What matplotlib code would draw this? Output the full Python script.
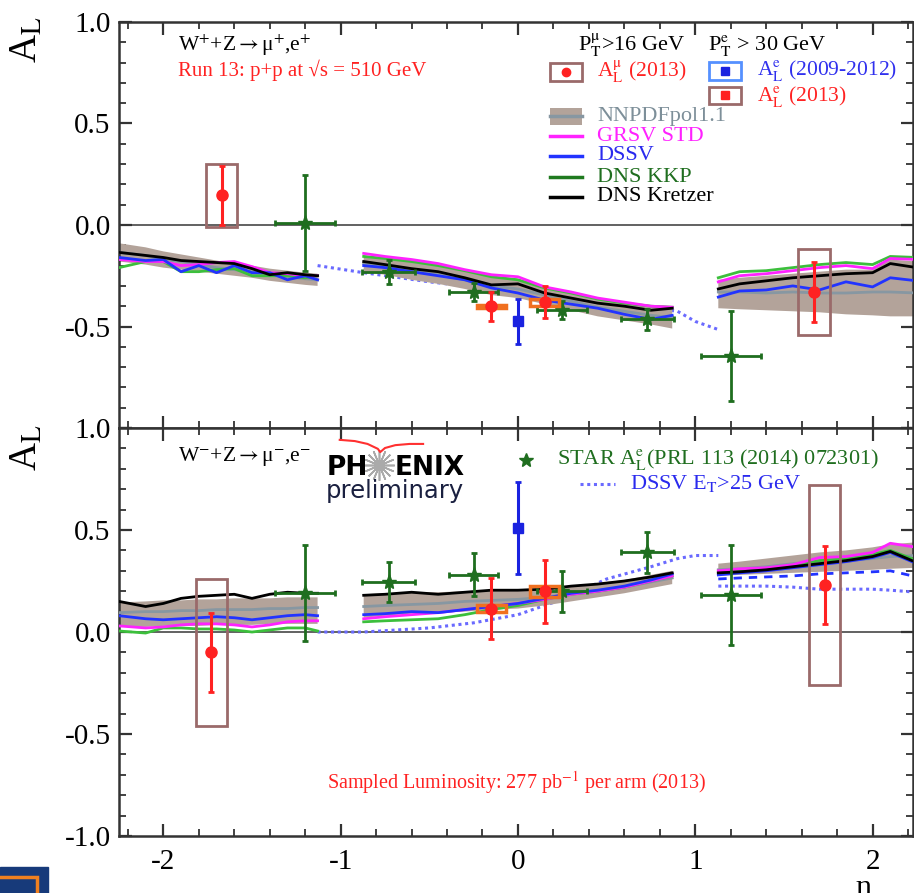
import numpy as np
import matplotlib
matplotlib.use("Agg")
from matplotlib import pyplot as plt
from matplotlib.patches import Rectangle
from matplotlib.ticker import MultipleLocator

plt.rcParams["font.family"] = ["Liberation Serif", "DejaVu Serif"]
plt.rcParams["mathtext.fontset"] = "stix"
plt.rcParams["axes.unicode_minus"] = False

nan = np.nan

# theory grid: backward | central | forward (nan = gap between arms)
eta_theory = [-2.25, -2.1, -2.0, -1.9, -1.8, -1.7, -1.6, -1.5, -1.4, -1.3, -1.2, -1.13, nan,
              -0.87, -0.75, -0.6, -0.45, -0.3, -0.15, 0.0, 0.15, 0.3, 0.45, 0.6, 0.75, 0.87, nan,
              1.13, 1.25, 1.4, 1.55, 1.7, 1.85, 2.0, 2.1, 2.25]

# W+ panel
wp_nnpdf_hi = [-0.09, -0.11, -0.13, -0.145, -0.16, -0.175, -0.19, -0.20, -0.215, -0.225, -0.235, -0.24, nan,
               -0.15, -0.16, -0.175, -0.195, -0.22, -0.25, -0.265, -0.30, -0.33, -0.36, -0.38, -0.395, -0.40, nan,
               -0.27, -0.26, -0.25, -0.24, -0.23, -0.22, -0.22, -0.17, -0.18]
wp_nnpdf_lo = [-0.18, -0.195, -0.21, -0.22, -0.23, -0.24, -0.25, -0.26, -0.275, -0.285, -0.295, -0.30, nan,
               -0.23, -0.245, -0.27, -0.29, -0.315, -0.345, -0.36, -0.39, -0.42, -0.45, -0.47, -0.49, -0.51, nan,
               -0.41, -0.415, -0.42, -0.425, -0.43, -0.44, -0.445, -0.45, -0.45]
wp_nnpdf = [-0.135, -0.15, -0.17, -0.18, -0.195, -0.21, -0.22, -0.23, -0.245, -0.255, -0.265, -0.27, nan,
            -0.19, -0.205, -0.225, -0.245, -0.27, -0.30, -0.315, -0.345, -0.375, -0.405, -0.425, -0.445, -0.455, nan,
            -0.33, -0.33, -0.335, -0.33, -0.335, -0.335, -0.33, -0.33, -0.335]
wp_grsv = [-0.17, -0.18, -0.18, -0.20, -0.195, -0.185, -0.18, -0.205, -0.235, -0.24, -0.25, -0.25, nan,
           -0.14, -0.155, -0.17, -0.19, -0.22, -0.245, -0.255, -0.305, -0.33, -0.36, -0.38, -0.40, -0.405, nan,
           -0.28, -0.25, -0.24, -0.225, -0.21, -0.20, -0.215, -0.165, -0.17]
wp_dssv = [-0.16, -0.175, -0.17, -0.23, -0.20, -0.235, -0.20, -0.235, -0.235, -0.27, -0.25, -0.27, nan,
           -0.20, -0.21, -0.23, -0.25, -0.27, -0.31, -0.335, -0.37, -0.39, -0.41, -0.44, -0.465, -0.445, nan,
           -0.355, -0.325, -0.32, -0.30, -0.32, -0.28, -0.305, -0.26, -0.275]
wp_kkp = [-0.21, -0.18, -0.18, -0.23, -0.23, -0.22, -0.215, -0.25, -0.25, -0.25, -0.26, -0.25, nan,
          -0.155, -0.165, -0.18, -0.20, -0.225, -0.255, -0.27, -0.31, -0.335, -0.365, -0.385, -0.40, -0.405, nan,
          -0.26, -0.23, -0.225, -0.21, -0.195, -0.185, -0.195, -0.155, -0.16]
wp_kretzer = [-0.135, -0.15, -0.16, -0.175, -0.18, -0.185, -0.19, -0.215, -0.245, -0.235, -0.245, -0.25, nan,
              -0.18, -0.195, -0.215, -0.23, -0.26, -0.295, -0.29, -0.335, -0.36, -0.385, -0.40, -0.42, -0.41, nan,
              -0.315, -0.29, -0.275, -0.26, -0.25, -0.24, -0.235, -0.19, -0.21]

# W- panel
wm_nnpdf_hi = [0.145, 0.15, 0.155, 0.155, 0.16, 0.16, 0.165, 0.165, 0.165, 0.17, 0.17, 0.17, nan,
               0.185, 0.19, 0.195, 0.195, 0.2, 0.205, 0.21, 0.215, 0.225, 0.24, 0.255, 0.28, 0.30, nan,
               0.335, 0.345, 0.36, 0.375, 0.39, 0.40, 0.415, 0.43, 0.44]
wm_nnpdf_lo = [0.025, 0.025, 0.03, 0.03, 0.03, 0.035, 0.035, 0.035, 0.04, 0.04, 0.04, 0.04, nan,
               0.07, 0.08, 0.09, 0.095, 0.10, 0.11, 0.115, 0.13, 0.15, 0.17, 0.19, 0.215, 0.235, nan,
               0.275, 0.28, 0.285, 0.29, 0.295, 0.30, 0.305, 0.31, 0.315]
wm_nnpdf = [0.095, 0.10, 0.10, 0.105, 0.105, 0.11, 0.11, 0.11, 0.115, 0.115, 0.12, 0.12, nan,
            0.125, 0.13, 0.135, 0.14, 0.15, 0.155, 0.16, 0.17, 0.185, 0.20, 0.22, 0.245, 0.265, nan,
            0.305, 0.31, 0.32, 0.335, 0.345, 0.35, 0.36, 0.37, 0.375]
wm_grsv = [0.03, 0.02, 0.025, 0.035, 0.04, 0.04, 0.035, 0.025, 0.035, 0.05, 0.055, 0.055, nan,
           0.065, 0.075, 0.085, 0.095, 0.11, 0.125, 0.14, 0.16, 0.185, 0.20, 0.22, 0.25, 0.275, nan,
           0.30, 0.31, 0.315, 0.33, 0.365, 0.37, 0.39, 0.435, 0.415]
wm_dssv = [0.08, 0.065, 0.06, 0.065, 0.07, 0.075, 0.07, 0.06, 0.07, 0.08, 0.085, 0.08, nan,
           0.085, 0.09, 0.10, 0.095, 0.11, 0.125, 0.14, 0.165, 0.19, 0.205, 0.225, 0.255, 0.285, nan,
           0.28, 0.29, 0.30, 0.315, 0.33, 0.345, 0.365, 0.39, 0.335]
wm_kkp = [0.005, -0.005, 0.02, 0.02, 0.015, 0.015, 0.01, 0.0, 0.01, 0.02, 0.02, 0.005, nan,
          0.05, 0.055, 0.06, 0.065, 0.085, 0.11, 0.13, 0.16, 0.185, 0.20, 0.22, 0.25, 0.275, nan,
          0.29, 0.30, 0.31, 0.325, 0.35, 0.36, 0.38, 0.40, 0.35]
wm_kretzer = [0.15, 0.125, 0.14, 0.165, 0.175, 0.18, 0.185, 0.165, 0.185, 0.195, 0.19, 0.19, nan,
              0.18, 0.185, 0.195, 0.185, 0.195, 0.205, 0.205, 0.21, 0.225, 0.235, 0.25, 0.27, 0.29, nan,
              0.29, 0.295, 0.305, 0.32, 0.335, 0.35, 0.37, 0.395, 0.34]

# forward arm extra DSSV curves (W- only)
eta_fwd = [1.13, 1.25, 1.4, 1.55, 1.7, 1.85, 2.0, 2.1, 2.25]
wm_dssv_dash = [0.26, 0.265, 0.27, 0.275, 0.285, 0.29, 0.295, 0.30, 0.27]
wm_dssv_dot = [0.225, 0.225, 0.225, 0.22, 0.21, 0.21, 0.21, 0.205, 0.195]

# DSSV E_T > 25 GeV (central)
eta_et = [-1.13, -0.87, -0.5, -0.25, 0.0, 0.25, 0.5, 0.75, 0.9, 1.0, 1.13]
wp_et = [-0.20, -0.235, -0.28, -0.305, -0.33, -0.355, -0.38, -0.41, -0.425, -0.475, -0.515]
wm_et = [0.0, 0.0, 0.02, 0.045, 0.085, 0.16, 0.26, 0.32, 0.36, 0.375, 0.375]

# PHENIX muon arms 2013
wp_mu_eta = [-1.67, 1.67]
wp_mu_al = [0.147, -0.33]
wp_mu_stat = [0.145, 0.148]
wp_mu_sys = [0.155, 0.213]
wm_mu_eta = [-1.73, 1.73]
wm_mu_al = [-0.10, 0.23]
wm_mu_stat = [0.195, 0.19]
wm_mu_sys = [0.36, 0.49]

# PHENIX central e 2013
e13_eta = [-0.15, 0.15]
wp_e13_al = [-0.40, -0.38]
wp_e13_stat = [0.072, 0.078]
wp_e13_sys = [0.008, 0.017]
wm_e13_al = [0.115, 0.20]
wm_e13_stat = [0.148, 0.155]
wm_e13_sys = [0.015, 0.027]

# PHENIX central e 2009-2012
wp_e12_al, wp_e12_stat = -0.475, 0.11
wm_e12_al, wm_e12_stat = 0.51, 0.225

# STAR
star_eta = [-1.20, -0.73, -0.25, 0.25, 0.73, 1.20]
star_xerr = [0.17, 0.15, 0.14, 0.14, 0.15, 0.17]
wp_star_al = [0.01, -0.23, -0.33, -0.42, -0.465, -0.645]
wp_star_err = [0.235, 0.06, 0.045, 0.045, 0.05, 0.22]
wm_star_al = [0.19, 0.245, 0.28, 0.20, 0.39, 0.18]
wm_star_err = [0.235, 0.10, 0.105, 0.10, 0.10, 0.245]

c_band = "#b3a39a"
c_cent = "#8797a2"
c_grsv = "#ff22ff"
c_dssv = "#2233ff"
c_kkp = "#3cbf3c"
c_star = "#1f6e1f"
c_box = "#9a6a6a"
c_red = "#ff2222"
c_dot = "#6a6aff"
dotted = (0, (1, 1.2))


def draw_panel(ax, nnpdf_lo, nnpdf_hi, nnpdf, grsv, dssv, kkp, kretzer, et,
               mu_eta, mu_al, mu_stat, mu_sys, e13_al, e13_stat, e13_sys,
               e12_al, e12_stat, star_al, star_err):
    ax.axhline(0.0, color="#555555", lw=1.3, zorder=1)
    ax.plot(eta_et, et, color=c_dot, lw=2.2, ls=dotted, zorder=1.5)
    ax.fill_between(eta_theory, nnpdf_lo, nnpdf_hi, color=c_band, lw=0, zorder=2)
    ax.plot(eta_theory, nnpdf, color=c_cent, lw=2, zorder=3)
    ax.plot(eta_theory, kkp, color=c_kkp, lw=2, zorder=3)
    ax.plot(eta_theory, grsv, color=c_grsv, lw=2, zorder=3)
    ax.plot(eta_theory, dssv, color=c_dssv, lw=2, zorder=3)
    ax.plot(eta_theory, kretzer, color="black", lw=2, zorder=3)

    # STAR
    ax.errorbar(star_eta, star_al, xerr=star_xerr, yerr=star_err, fmt="*",
                color=c_star, ms=11, elinewidth=2, capsize=2.5, capthick=2, zorder=5)
    # PHENIX muon arms with systematic boxes
    for x, y, s in zip(mu_eta, mu_al, mu_sys):
        ax.add_patch(Rectangle((x - 0.088, y - s), 0.176, 2 * s, fill=False,
                               ec=c_box, lw=2, zorder=6))
    ax.errorbar(mu_eta, mu_al, yerr=mu_stat, fmt="o", color=c_red, ms=8,
                elinewidth=2.2, capsize=2.5, capthick=2, zorder=7)
    # PHENIX central arm 2013
    for x, y, s in zip(e13_eta, e13_al, e13_sys):
        ax.add_patch(Rectangle((x - 0.08, y - s), 0.16, 2 * s, fill=False,
                               ec="#f07020", lw=2.5, zorder=6))
    ax.errorbar(e13_eta, e13_al, yerr=e13_stat, fmt="o", color=c_red, ms=8,
                elinewidth=2.2, capsize=2.5, capthick=2, zorder=7)
    # PHENIX central arm 2009-2012
    ax.errorbar([0.0], [e12_al], yerr=[e12_stat], fmt="s", color="#1a22e0", ms=7,
                elinewidth=2.2, capsize=2.5, capthick=2, zorder=7)


fig = plt.figure(figsize=(9.14, 8.93), dpi=100)
ax_top = fig.add_axes([0.1302, 0.5207, 0.8687, 0.4547])
ax_bot = fig.add_axes([0.1302, 0.0638, 0.8687, 0.4569])

draw_panel(ax_top, wp_nnpdf_lo, wp_nnpdf_hi, wp_nnpdf, wp_grsv, wp_dssv, wp_kkp, wp_kretzer, wp_et,
           wp_mu_eta, wp_mu_al, wp_mu_stat, wp_mu_sys, wp_e13_al, wp_e13_stat, wp_e13_sys,
           wp_e12_al, wp_e12_stat, wp_star_al, wp_star_err)
draw_panel(ax_bot, wm_nnpdf_lo, wm_nnpdf_hi, wm_nnpdf, wm_grsv, wm_dssv, wm_kkp, wm_kretzer, wm_et,
           wm_mu_eta, wm_mu_al, wm_mu_stat, wm_mu_sys, wm_e13_al, wm_e13_stat, wm_e13_sys,
           wm_e12_al, wm_e12_stat, wm_star_al, wm_star_err)
ax_bot.plot(eta_fwd, wm_dssv_dash, color=c_dssv, lw=2, ls=(0, (3, 2.5)), zorder=3)
ax_bot.plot(eta_fwd, wm_dssv_dot, color=c_dot, lw=2.2, ls=dotted, zorder=3)

for ax in (ax_top, ax_bot):
    ax.set_xlim(-2.25, 2.228)
    ax.set_ylim(-1.0, 1.0)
    ax.xaxis.set_major_locator(MultipleLocator(1.0))
    ax.xaxis.set_minor_locator(MultipleLocator(0.2))
    ax.set_yticks([-1.0, -0.5, 0.0, 0.5, 1.0])
    ax.yaxis.set_minor_locator(MultipleLocator(0.1))
    ax.tick_params(which="both", direction="in", top=True, right=True,
                   color="#333333", labelsize=21)
    ax.tick_params(which="major", length=9, width=1.6)
    ax.tick_params(which="minor", length=5, width=1.3)
    ax.tick_params(axis="y", pad=6)
    ax.tick_params(axis="x", pad=9)
    for sp in ax.spines.values():
        sp.set_linewidth(1.8)
        sp.set_color("#333333")

ax_top.set_yticklabels(["", "-0.5", "0.0", "0.5", "1.0"])
ax_top.tick_params(labelbottom=False)
ax_bot.set_yticklabels(["-1.0", "-0.5", "0.0", "0.5", "1.0"])
ax_bot.set_xticks([-2, -1, 0, 1, 2])
ax_bot.set_xticklabels(["-2", "-1", "0", "1", "2"])

fig.text(27 / 914, 1 - 40 / 893, r"A$_{\rm L}$", rotation=90, fontsize=28,
         ha="center", va="center")
fig.text(27 / 914, 1 - 448 / 893, r"A$_{\rm L}$", rotation=90, fontsize=28,
         ha="center", va="center")
fig.text(863 / 914, 1 - 874 / 893, "η", fontsize=22, ha="center", va="top")

# ---- W+ panel annotations / legend
T = ax_top.transAxes
ax_top.text(0.0743, 0.943, r"W$^{+}$+Z$\rightarrow$μ$^{+}$,e$^{+}$", transform=T,
            fontsize=15.5, va="center")
ax_top.text(0.0743, 0.882, "Run 13: p+p at √s = 510 GeV", transform=T,
            fontsize=15, color=c_red, va="center")
ax_top.text(0.578, 0.943, r"P$_{\rm T}^{\mathrm{\mu}}$>16 GeV", transform=T, fontsize=16, va="center")
ax_top.text(0.742, 0.943, r"P$_{\rm T}^{\rm e}$ > 30 GeV", transform=T, fontsize=16, va="center")

ax_top.add_patch(Rectangle((0.543, 0.855), 0.040, 0.044, transform=T, fill=False,
                           ec=c_box, lw=2))
ax_top.plot([0.563], [0.877], "o", color=c_red, ms=6, transform=T)
ax_top.text(0.602, 0.877, r"A$_{\rm L}^{\mathrm{\mu}}$ (2013)", transform=T, fontsize=15.5,
            color=c_red, va="center")
ax_top.add_patch(Rectangle((0.743, 0.857), 0.040, 0.044, transform=T, fill=False,
                           ec="#5590ff", lw=2))
ax_top.plot([0.763], [0.879], "s", color="#1a22e0", ms=6, transform=T)
ax_top.text(0.804, 0.881, r"A$_{\rm L}^{\rm e}$ (2009-2012)", transform=T, fontsize=15.5,
            color="#3030ee", va="center")
ax_top.add_patch(Rectangle((0.743, 0.797), 0.040, 0.044, transform=T, fill=False,
                           ec=c_box, lw=2))
ax_top.plot([0.763], [0.819], "s", color=c_red, ms=6, transform=T)
ax_top.text(0.804, 0.816, r"A$_{\rm L}^{\rm e}$ (2013)", transform=T, fontsize=15.5,
            color=c_red, va="center")

ax_top.add_patch(Rectangle((0.543, 0.747), 0.040, 0.042, transform=T, color=c_band, lw=0))
ax_top.plot([0.543, 0.583], [0.768, 0.768], color=c_cent, lw=2.5, transform=T)
ax_top.text(0.602, 0.768, "NNPDFpol1.1", transform=T, fontsize=16, color="#7d8f99", va="center")
leg_lines = [(0.719, c_grsv, "GRSV STD", c_grsv),
             (0.670, c_dssv, "DSSV", "#2a2aee"),
             (0.618, "#1f7a1f", "DNS KKP", "#1f6e1f"),
             (0.569, "black", "DNS Kretzer", "black")]
for y, lc, name, tc in leg_lines:
    ax_top.plot([0.543, 0.583], [y, y], color=lc, lw=2.5, transform=T)
    ax_top.text(0.602, y, name, transform=T, fontsize=16, color=tc, va="center")

# ---- W- panel annotations / legend
B = ax_bot.transAxes
ax_bot.text(0.0743, 0.929, r"W$^{-}$+Z$\rightarrow$μ$^{-}$,e$^{-}$", transform=B,
            fontsize=15.5, va="center")
ax_bot.plot([0.513], [0.922], "*", color=c_star, ms=10, transform=B)
ax_bot.text(0.552, 0.922, r"STAR A$_{\rm L}^{\rm e}$(PRL 113 (2014) 072301)", transform=B,
            fontsize=16, color=c_star, va="center")
ax_bot.plot([0.581, 0.625], [0.863, 0.863], color=c_dot, lw=2.2, ls=dotted, transform=B)
ax_bot.text(0.644, 0.863, r"DSSV E$_{\rm T}$>25 GeV", transform=B, fontsize=16,
            color="#2a2aee", va="center")
ax_bot.text(0.5, 0.130, r"Sampled Luminosity: 277 pb$^{-1}$ per arm (2013)", transform=B,
            fontsize=14.5, color=c_red, ha="center", va="center")

# PHENIX preliminary logo
ax_bot.text(0.262, 0.885, "PH", transform=B, fontsize=19, family="DejaVu Sans",
            weight="bold", va="baseline")
ax_bot.plot([0.328], [0.910], marker=(16, 2, 0), color="#aaaaaa", ms=22, mew=1.2,
            transform=B)
ax_bot.text(0.347, 0.885, "ENIX", transform=B, fontsize=19, family="DejaVu Sans",
            weight="bold", va="baseline")
ax_bot.text(0.260, 0.828, "preliminary", transform=B, fontsize=17.5, family="DejaVu Sans",
            color="#1a2040", va="baseline")
swoosh_x = [0.278, 0.297, 0.313, 0.326, 0.329, 0.335, 0.348, 0.366, 0.383]
swoosh_y = [0.971, 0.968, 0.961, 0.949, 0.941, 0.951, 0.958, 0.961, 0.961]
ax_bot.plot(swoosh_x, swoosh_y, color="#ff3030", lw=1.5, transform=B, clip_on=False)

# slide corner decoration
fig.patches.append(Rectangle((0, 0), 48 / 914, 26 / 893, transform=fig.transFigure,
                             color="#173a7a", zorder=0))
fig.patches.append(Rectangle((-0.01, -0.01), 0.01 + 37 / 914, 0.01 + 16 / 893,
                             transform=fig.transFigure, fill=False, ec="#f08020",
                             lw=2.5, zorder=1))

plt.savefig("out.png", dpi=100)
plt.close()
